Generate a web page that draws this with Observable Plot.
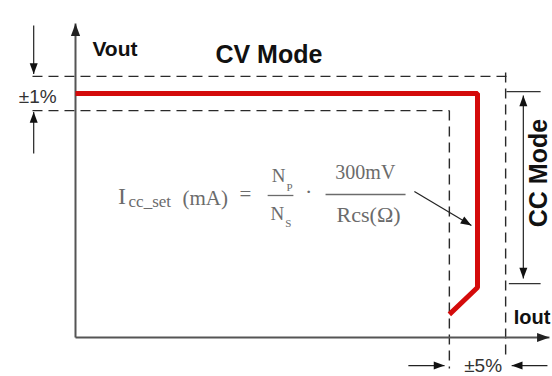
<!DOCTYPE html>
<html><head><meta charset="utf-8">
<script src="https://cdn.jsdelivr.net/npm/d3@7"></script>
<script src="https://cdn.jsdelivr.net/npm/@observablehq/plot@0.6"></script>
<style>html,body{margin:0;padding:0;background:#fff;overflow:hidden}</style>
</head><body><div id="chart"></div>
<script>
// Scale set-up (schematic units: rated Iout = 100, rated Vout = 100)
const xDomain = [0, 100], xRange = [75, 477];
const yDomain = [0, 100], yRange = [337, 93];

// Red CV/CC characteristic
const curveI = [0, 100, 100, 93];
const curveV = [100, 100, 20.5, 9.5];

// Dashed tolerance lines (±1 % voltage, ±5 % current)
const tolLines = [
  {x1: -10.7, y1: 107, x2: 107.5, y2: 107},
  {x1: -10.7, y1: 93, x2: 93, y2: 93},
  {x1: 93, y1: 93, x2: 93, y2: -12.7},
  {x1: 107, y1: 108.6, x2: 107, y2: -9.4}
];

// Axes (with arrow heads)
const axisArrows = [
  {x1: 0, y1: 0, x2: 0, y2: 128.7},
  {x1: 0, y1: 0, x2: 117.9, y2: 0}
];

// Dimension arrows
const dimArrows = [
  {x1: -10.4, y1: 127.9, x2: -10.4, y2: 108},
  {x1: -10.4, y1: 75.4, x2: -10.4, y2: 92.4},
  {x1: 111.4, y1: 60, x2: 111.4, y2: 99.2},
  {x1: 111.4, y1: 60, x2: 111.4, y2: 24.2},
  {x1: 82.8, y1: -11.5, x2: 91.8, y2: -11.5},
  {x1: 117.4, y1: -11.5, x2: 108.5, y2: -11.5},
  {x1: 84.3, y1: 59.8, x2: 98.5, y2: 45.9}
];

// Short extension ticks of the CC Mode dimension
const ccTicks = [
  {x1: 107.2, y1: 100.8, x2: 115.7, y2: 100.8},
  {x1: 107.8, y1: 22.1, x2: 115.7, y2: 22.1}
];

// Labels
const boldStart = [{t: "Vout", x: 4.2, y: 115.2, s: 21}, {t: "Iout", x: 109, y: 5.7, s: 20}];
const boldMiddle = [{t: "CV Mode", x: 48.1, y: 112.7, s: 25}];
const boldRotated = [{t: "CC Mode", x: 117.2, y: 67.4, s: 25}];
const tolLabels = [{t: "±1%", x: -4.7, y: 96.3, s: 19, a: "end"}, {t: "±5%", x: 101.4, y: -14.3, s: 19, a: "middle"}];

// Formula  I_cc_set(mA) = Np/Ns · 300mV/Rcs(Ω)
const formulaStart = [
  {t: "I", x: 10.6, y: 54.9, s: 24},
  {t: "cc_set", x: 13.2, y: 53.4, s: 17},
  {t: "(mA)", x: 26.6, y: 54.1, s: 21},
  {t: "P", x: 52.5, y: 60.2, s: 11},
  {t: "S", x: 52.2, y: 45.3, s: 11}
];
const formulaMiddle = [
  {t: "=", x: 42.3, y: 56.1, s: 21},
  {t: "N", x: 50.5, y: 63.9, s: 19},
  {t: "N", x: 50.2, y: 48.2, s: 19},
  {t: "·", x: 58, y: 56.6, s: 22},
  {t: "300mV", x: 72.1, y: 64.8, s: 20},
  {t: "Rcs(Ω)", x: 72.9, y: 47.3, s: 22}
];
const fractionBars = [
  {x1: 47.8, y1: 58.2, x2: 54.2, y2: 58.2},
  {x1: 62.2, y1: 58.6, x2: 82.1, y2: 58.6}
];

const curve = curveI.map((i, k) => ({i, v: curveV[k]}));
const sxPx = (xRange[1] - xRange[0]) / (xDomain[1] - xDomain[0]);
const syPx = (yRange[1] - yRange[0]) / (yDomain[1] - yDomain[0]);
const headAngle = d => Math.atan2((d.y2 - d.y1) * syPx, (d.x2 - d.x1) * sxPx) * 180 / Math.PI + 90;

const arrowHead = {
  draw(context, size) {
    const k = Math.sqrt(size / Math.PI);
    context.moveTo(0, 0);
    context.lineTo(k, 2.7 * k);
    context.lineTo(-k, 2.7 * k);
    context.closePath();
  }
};

const sans = "Liberation Sans, Arial, sans-serif";
const serif = "Liberation Serif, Times New Roman, serif";
const formulaColor = "#6b6b6b";

const chart = Plot.plot({
  width: 552,
  height: 376,
  margin: 0,
  style: {background: "#fff", fontFamily: sans},
  x: {domain: xDomain, range: xRange, axis: null},
  y: {domain: yDomain, range: yRange, axis: null},
  marks: [
    Plot.link(tolLines, {x1: "x1", y1: "y1", x2: "x2", y2: "y2", stroke: "#2a2a2a", strokeWidth: 1.4, strokeDasharray: "10,6"}),
    Plot.link(axisArrows, {x1: "x1", y1: "y1", x2: "x2", y2: "y2", stroke: "#555", strokeWidth: 2}),
    Plot.dot(axisArrows, {x: "x2", y: "y2", symbol: arrowHead, r: 4.6, fill: "#222", stroke: "none", rotate: headAngle}),
    Plot.link(dimArrows, {x1: "x1", y1: "y1", x2: "x2", y2: "y2", stroke: "#222", strokeWidth: 1.2}),
    Plot.dot(dimArrows, {x: "x2", y: "y2", symbol: arrowHead, r: 4, fill: "#111", stroke: "none", rotate: headAngle}),
    Plot.link(ccTicks, {x1: "x1", y1: "y1", x2: "x2", y2: "y2", stroke: "#333", strokeWidth: 1.2}),
    Plot.line(curve, {x: "i", y: "v", stroke: "#d40b0b", strokeWidth: 5, strokeLinejoin: "miter", strokeLinecap: "butt"}),
    Plot.text(boldStart, {x: "x", y: "y", text: "t", fontSize: "s", fontWeight: "bold", textAnchor: "start", lineAnchor: "bottom", fill: "#111", fontFamily: sans}),
    Plot.text(boldMiddle, {x: "x", y: "y", text: "t", fontSize: "s", fontWeight: "bold", textAnchor: "middle", lineAnchor: "bottom", fill: "#111", fontFamily: sans}),
    Plot.text(boldRotated, {x: "x", y: "y", text: "t", fontSize: "s", fontWeight: "bold", textAnchor: "middle", lineAnchor: "bottom", rotate: -90, fill: "#111", fontFamily: sans}),
    Plot.text(tolLabels.filter(d => d.a === "end"), {x: "x", y: "y", text: "t", fontSize: "s", textAnchor: "end", lineAnchor: "bottom", fill: "#333", fontFamily: sans}),
    Plot.text(tolLabels.filter(d => d.a === "middle"), {x: "x", y: "y", text: "t", fontSize: "s", textAnchor: "middle", lineAnchor: "bottom", fill: "#333", fontFamily: sans}),
    Plot.text(formulaStart, {x: "x", y: "y", text: "t", fontSize: "s", textAnchor: "start", lineAnchor: "bottom", fill: formulaColor, fontFamily: serif}),
    Plot.text(formulaMiddle, {x: "x", y: "y", text: "t", fontSize: "s", textAnchor: "middle", lineAnchor: "bottom", fill: formulaColor, fontFamily: serif}),
    Plot.link(fractionBars, {x1: "x1", y1: "y1", x2: "x2", y2: "y2", stroke: formulaColor, strokeWidth: 1.3})
  ]
});
document.getElementById("chart").appendChild(chart);
</script>
</body></html>
